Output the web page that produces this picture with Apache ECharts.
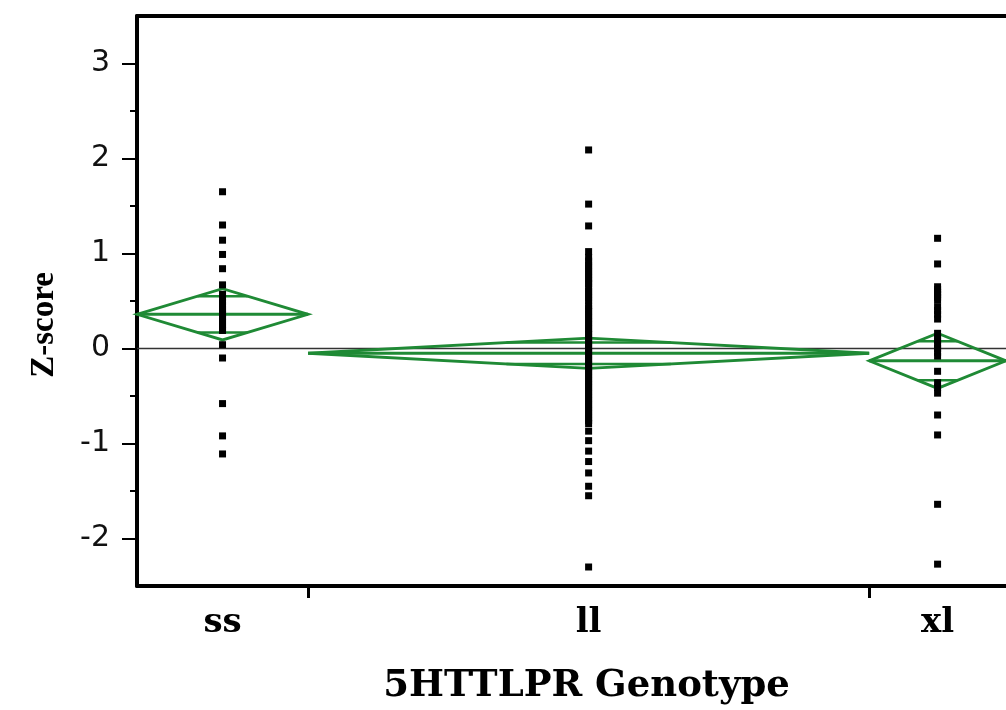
<!DOCTYPE html>
<html>
<head>
<meta charset="utf-8">
<script src="https://cdn.jsdelivr.net/npm/echarts@6/dist/echarts.min.js"></script>
<style>
  html, body { margin: 0; padding: 0; background: #fff; }
  #chart { width: 1006px; height: 710px; }
</style>
</head>
<body>
<div id="chart"></div>
<script>
// ---- data ----
const groups = ['ss', 'll', 'xl'];
const groupN = [25, 82, 20];                 // group sizes (set the group widths)
const groupMean = [0.36, -0.05, -0.13];      // diamond centre (group mean)
const groupCIHalf = [0.27, 0.16, 0.29];      // diamond half-height (95% CI)
const grandMean = 0;

const ssScores = [1.65, 1.30, 1.14, 0.99, 0.84, 0.67, 0.57, 0.53, 0.49, 0.46, 0.42, 0.39, 0.36,
  0.33, 0.31, 0.28, 0.25, 0.22, 0.19, 0.04, -0.10, -0.58, -0.92, -1.11];
const llScores = [2.09, 1.52, 1.29, 1.02, 0.96, 0.92, 0.88, 0.85, 0.81, 0.78, 0.74, 0.71, 0.68,
  0.64, 0.60, 0.57, 0.53, 0.50, 0.45, 0.42, 0.39, 0.35, 0.32, 0.28, 0.25, 0.21, 0.18, 0.15, 0.11,
  0.08, 0.04, 0.01, -0.03, -0.06, -0.10, -0.13, -0.17, -0.20, -0.24, -0.27, -0.31, -0.34, -0.38,
  -0.41, -0.45, -0.48, -0.52, -0.55, -0.59, -0.62, -0.66, -0.69, -0.73, -0.76, -0.79, -0.87,
  -0.97, -1.08, -1.19, -1.31, -1.45, -1.55, -2.30];
const xlScores = [1.16, 0.89, 0.65, 0.62, 0.59, 0.57, 0.54, 0.51, 0.44, 0.40, 0.36, 0.31, 0.16,
  0.12, 0.08, 0.04, 0.00, -0.04, -0.08, -0.24, -0.36, -0.41, -0.47, -0.70, -0.91, -1.64, -2.27];

const yTickValues = [-2, -1, 0, 1, 2, 3];
const yMinorTickValues = [-1.5, -0.5, 0.5, 1.5, 2.5];
const yMin = -2.5, yMax = 3.5;

// ---- derived from the arrays ----
const edges = [0];
groupN.forEach(n => edges.push(edges[edges.length - 1] + n));
const total = edges[edges.length - 1];
const centers = groups.map((g, i) => (edges[i] + edges[i + 1]) / 2);
const boundaries = edges.slice(1, -1);
const scoreLists = [ssScores, llScores, xlScores];

const GREEN = '#1f8a35';

const diamondData = groups.map((g, i) => [edges[i], edges[i + 1], groupMean[i], groupCIHalf[i]]);

function renderDiamond(params, api) {
  const x0 = api.value(0), x1 = api.value(1), m = api.value(2), h = api.value(3);
  const xc = (x0 + x1) / 2;
  const L = api.coord([x0, m]);
  const R = api.coord([x1, m]);
  const T = api.coord([xc, m + h]);
  const B = api.coord([xc, m - h]);
  const o = h / Math.SQRT2;
  const f = 1 - 1 / Math.SQRT2; // chord fraction at overlap height
  const w = x1 - x0;
  const ou1 = api.coord([xc - w * f / 2, m + o]);
  const ou2 = api.coord([xc + w * f / 2, m + o]);
  const ol1 = api.coord([xc - w * f / 2, m - o]);
  const ol2 = api.coord([xc + w * f / 2, m - o]);
  const st = { stroke: GREEN, lineWidth: 2.8, fill: null };
  return {
    type: 'group',
    children: [
      { type: 'polygon', shape: { points: [L, T, R, B] }, style: st },
      { type: 'line', shape: { x1: L[0], y1: L[1], x2: R[0], y2: R[1] }, style: { stroke: GREEN, lineWidth: 3 } },
      { type: 'line', shape: { x1: ou1[0], y1: ou1[1], x2: ou2[0], y2: ou2[1] }, style: { stroke: GREEN, lineWidth: 2.5 } },
      { type: 'line', shape: { x1: ol1[0], y1: ol1[1], x2: ol2[0], y2: ol2[1] }, style: { stroke: GREEN, lineWidth: 2.5 } }
    ]
  };
}

const chart = echarts.init(document.getElementById('chart'), null, { renderer: 'canvas' });

const option = {
  animation: false,
  backgroundColor: '#fff',
  grid: { left: 137, right: 0, top: 16, bottom: 123, containLabel: false },
  xAxis: [
    {
      type: 'value', min: 0, max: total, position: 'bottom',
      axisLine: { show: true, onZero: false, lineStyle: { color: '#000', width: 4 } },
      axisTick: { show: true, customValues: boundaries, length: 12, inside: false, lineStyle: { color: '#000', width: 3 } },
      axisLabel: {
        show: true, customValues: centers, margin: 20,
        formatter: v => { let k = 0, d = Infinity; centers.forEach((c, i) => { if (Math.abs(c - v) < d) { d = Math.abs(c - v); k = i; } }); return groups[k]; },
        fontFamily: 'DejaVu Serif', fontWeight: 'bold', fontSize: 34, color: '#000'
      },
      splitLine: { show: false },
      name: '5HTTLPR Genotype', nameLocation: 'middle', nameGap: 82,
      nameTextStyle: { fontFamily: 'DejaVu Serif', fontWeight: 'bold', fontSize: 37, color: '#000', padding: [0, 0, 0, 30] }
    },
    {
      type: 'value', min: 0, max: total, position: 'top',
      axisLine: { show: true, onZero: false, lineStyle: { color: '#000', width: 4 } },
      axisTick: { show: false }, axisLabel: { show: false }, splitLine: { show: false }
    }
  ],
  yAxis: [
    {
      type: 'value', min: yMin, max: yMax, position: 'left',
      axisLine: { show: true, onZero: false, lineStyle: { color: '#000', width: 4 } },
      axisTick: { show: true, customValues: yTickValues, length: 15, lineStyle: { color: '#000', width: 2 } },
      axisLabel: {
        show: true, customValues: yTickValues, margin: 27,
        fontFamily: 'DejaVu Sans', fontSize: 30, color: '#111'
      },
      splitLine: { show: false },
      name: 'Z-score', nameLocation: 'middle', nameGap: 76, nameRotate: 90,
      nameTextStyle: { fontFamily: 'Liberation Serif', fontWeight: 'bold', fontSize: 33, color: '#000', padding: [0, 48, 0, 0] }
    },
    {
      type: 'value', min: yMin, max: yMax, position: 'left',
      axisLine: { show: false, onZero: false },
      axisTick: { show: true, customValues: yMinorTickValues, length: 7, lineStyle: { color: '#000', width: 2 } },
      axisLabel: { show: false }, splitLine: { show: false }
    }
  ],
  series: [
    {
      type: 'line', xAxisIndex: 0, yAxisIndex: 0, z: 1,
      data: [[0, grandMean], [total, grandMean]],
      symbol: 'none', lineStyle: { color: '#333', width: 1.4 }, silent: true
    },
    {
      type: 'custom', xAxisIndex: 0, yAxisIndex: 0, z: 2,
      renderItem: renderDiamond, data: diamondData, clip: false, silent: true
    }
  ].concat(groups.map((g, i) => ({
    type: 'scatter', name: g, xAxisIndex: 0, yAxisIndex: 0, z: 3,
    symbol: 'rect', symbolSize: [7, 7],
    itemStyle: { color: '#000', opacity: 1 },
    data: scoreLists[i].map(v => [centers[i], v])
  })))
};

chart.setOption(option);
</script>
</body>
</html>
